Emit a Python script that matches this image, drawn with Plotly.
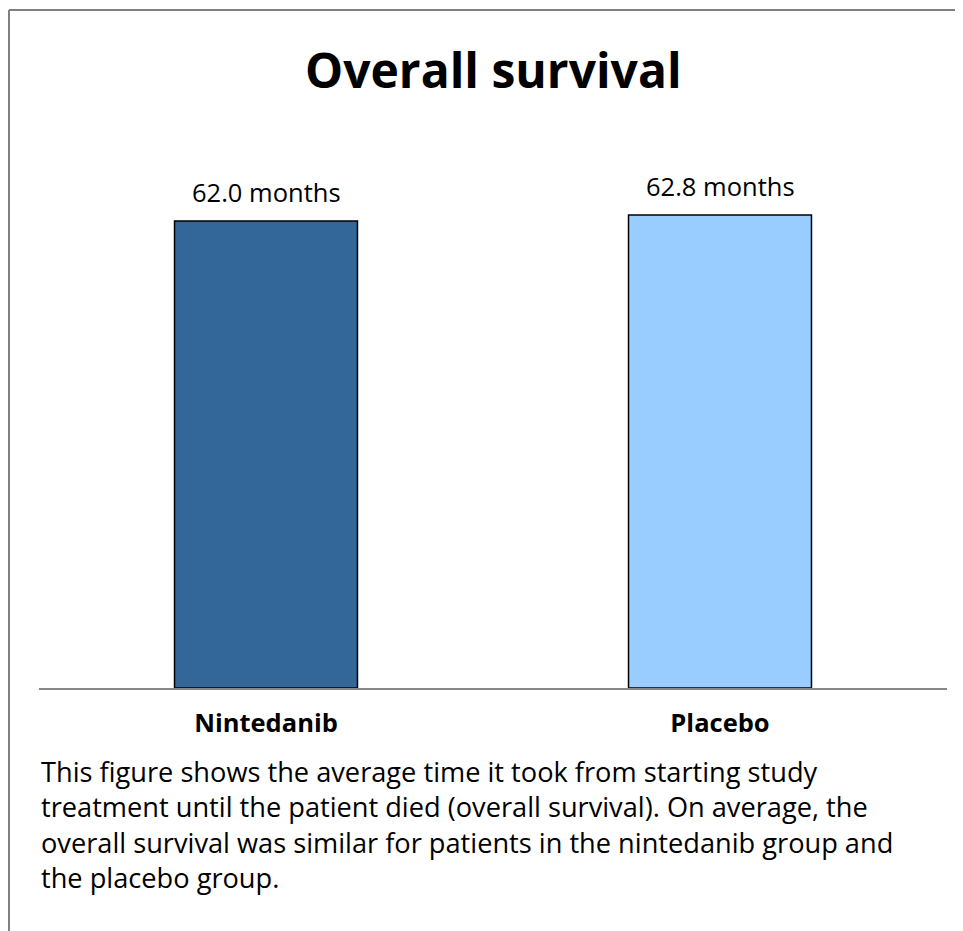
import plotly.graph_objects as go

categories = ["Nintedanib", "Placebo"]
values = [62.0, 62.8]
colors = ["#336699", "#99CCFF"]
label_suffix = " months"
title_text = "Overall survival"
caption_lines = [
    "This figure shows the average time it took from starting study",
    "treatment until the patient died (overall survival). On average, the",
    "overall survival was similar for patients in the nintedanib group and",
    "the placebo group.",
]

FONT = "Open Sans, sans-serif"

# page offset (browser body margin) and geometry in reference pixels
OFF = 8
W, H = 963 - OFF, 931 - OFF
PLOT_L, PLOT_R, PLOT_T, PLOT_B = 39, 947, 150, 688
L, R, T, B = PLOT_L - OFF, W - (PLOT_R - OFF), PLOT_T - OFF, H - (PLOT_B - OFF)


def px_to_paper_x(px):
    return (px - PLOT_L) / (PLOT_R - PLOT_L)


def px_to_paper_y(py):
    return (PLOT_B - py) / (PLOT_B - PLOT_T)


fig = go.Figure()
fig.add_trace(go.Bar(
    x=categories, y=values,
    marker=dict(color=colors, line=dict(color="#000000", width=1.5)),
    width=0.403,
    hoverinfo="skip",
))

for c, v in zip(categories, values):
    fig.add_annotation(x=c, y=v, xref="x", yref="y", text=f"{v:.1f}{label_suffix}",
                       showarrow=False, yanchor="middle", yshift=29,
                       font=dict(family=FONT, size=25.5, color="#000000"))

fig.add_annotation(x=0.5, xref="paper", y=px_to_paper_y(70), yref="paper",
                   yanchor="middle", text=f"<b>{title_text}</b>",
                   showarrow=False, font=dict(family=FONT, size=48, color="#000000"))

fig.add_annotation(x=px_to_paper_x(40), xref="paper", y=px_to_paper_y(825), yref="paper",
                   text="<br>".join(caption_lines), showarrow=False, xanchor="left",
                   yanchor="middle", align="left", borderpad=0,
                   font=dict(family=FONT, size=27.2, color="#000000"))

# border
fig.add_shape(type="line", xref="paper", yref="paper",
              x0=px_to_paper_x(9), x1=px_to_paper_x(975), y0=px_to_paper_y(10), y1=px_to_paper_y(10),
              line=dict(color="#808080", width=2))
fig.add_shape(type="line", xref="paper", yref="paper",
              x0=px_to_paper_x(9), x1=px_to_paper_x(9), y0=px_to_paper_y(10), y1=px_to_paper_y(945),
              line=dict(color="#808080", width=2))

fig.update_layout(
    width=W, height=H, autosize=False,
    margin=dict(l=L, r=R, t=T, b=B, pad=0),
    plot_bgcolor="white", paper_bgcolor="white",
    showlegend=False,
    xaxis=dict(showline=True, linecolor="#888888", linewidth=2, showgrid=False,
               ticks="outside", ticklen=11, tickcolor="rgba(0,0,0,0)",
               tickfont=dict(family=FONT, size=25.5, color="#000000", weight="bold"),
               fixedrange=True),
    yaxis=dict(range=[0, (PLOT_B - PLOT_T) / (467 / 62.0)], visible=False, showgrid=False,
               fixedrange=True),
)

fig.write_html("out.html", config={"displayModeBar": False})
